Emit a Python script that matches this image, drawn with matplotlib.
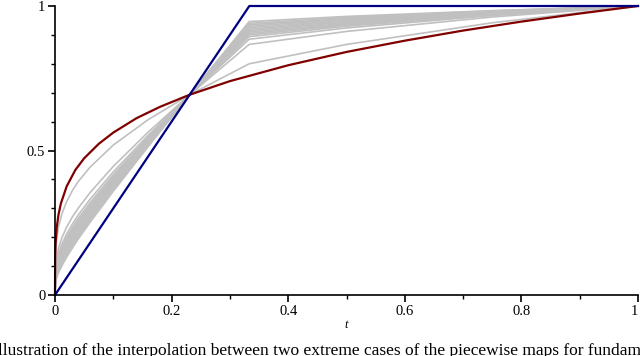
import matplotlib
matplotlib.use("Agg")
import matplotlib.pyplot as plt
from matplotlib.ticker import MultipleLocator

plt.rcParams['font.family'] = ['Liberation Serif', 'DejaVu Serif']

# red curve
t_red = [0, 0.0003, 0.001, 0.003, 0.006, 0.01, 0.02, 0.035, 0.05, 0.075, 0.1,
         0.14, 0.18, 0.231, 0.3, 0.4, 0.5, 0.6, 0.7, 0.8, 0.9, 1.0]
y_red = [0, 0.132, 0.178, 0.234, 0.278, 0.316, 0.376, 0.433, 0.473, 0.523, 0.562,
         0.612, 0.651, 0.693, 0.740, 0.795, 0.841, 0.880, 0.915, 0.946, 0.974, 1.0]

# blue piecewise linear curve
t_blue = [0, 1/3, 1.0]
y_blue = [0, 1.0, 1.0]

# grey curves
t_grey = [0, 0.0007, 0.003, 0.006, 0.012, 0.02, 0.03, 0.04, 0.06, 0.1, 0.16,
          0.231, 0.333, 0.5, 0.75, 1.0]
grey_curves = [
    [0, 0.136, 0.196, 0.235, 0.282, 0.323, 0.362, 0.393, 0.442, 0.519, 0.607, 0.693, 0.800, 0.867, 0.942, 1.0],
    [0, 0.091, 0.134, 0.162, 0.199, 0.235, 0.271, 0.301, 0.354, 0.445, 0.564, 0.693, 0.867, 0.912, 0.962, 1.0],
    [0, 0.079, 0.117, 0.143, 0.177, 0.211, 0.246, 0.277, 0.331, 0.426, 0.553, 0.693, 0.885, 0.924, 0.967, 1.0],
    [0, 0.073, 0.108, 0.133, 0.166, 0.200, 0.234, 0.265, 0.319, 0.416, 0.547, 0.693, 0.894, 0.930, 0.969, 1.0],
    [0, 0.069, 0.103, 0.127, 0.159, 0.192, 0.226, 0.256, 0.311, 0.409, 0.544, 0.693, 0.900, 0.934, 0.971, 1.0],
    [0, 0.066, 0.098, 0.121, 0.153, 0.185, 0.219, 0.250, 0.305, 0.404, 0.540, 0.693, 0.905, 0.937, 0.973, 1.0],
    [0, 0.062, 0.093, 0.116, 0.147, 0.179, 0.212, 0.243, 0.298, 0.398, 0.537, 0.693, 0.910, 0.940, 0.974, 1.0],
    [0, 0.059, 0.089, 0.110, 0.140, 0.172, 0.206, 0.236, 0.291, 0.393, 0.534, 0.693, 0.915, 0.944, 0.975, 1.0],
    [0, 0.056, 0.084, 0.105, 0.134, 0.165, 0.199, 0.229, 0.285, 0.387, 0.531, 0.693, 0.920, 0.947, 0.977, 1.0],
    [0, 0.052, 0.079, 0.099, 0.128, 0.159, 0.192, 0.222, 0.278, 0.382, 0.528, 0.693, 0.925, 0.950, 0.978, 1.0],
    [0, 0.049, 0.075, 0.094, 0.122, 0.152, 0.185, 0.216, 0.272, 0.377, 0.525, 0.693, 0.930, 0.954, 0.980, 1.0],
    [0, 0.046, 0.070, 0.089, 0.116, 0.146, 0.178, 0.209, 0.265, 0.371, 0.521, 0.693, 0.935, 0.957, 0.981, 1.0],
    [0, 0.042, 0.065, 0.083, 0.110, 0.139, 0.172, 0.202, 0.259, 0.366, 0.518, 0.693, 0.940, 0.960, 0.983, 1.0],
    [0, 0.038, 0.060, 0.077, 0.102, 0.131, 0.163, 0.194, 0.251, 0.359, 0.514, 0.693, 0.946, 0.964, 0.984, 1.0],
]

x_ticks = [0, 0.2, 0.4, 0.6, 0.8, 1]
x_labels = ["0", "0.2", "0.4", "0.6", "0.8", "1"]
y_ticks = [0, 0.5, 1]
y_labels = ["0", "0.5", "1"]

fig = plt.figure(figsize=(6.4, 3.56), dpi=100)
ax = fig.add_axes([55/640, 1 - 295/356, 583/640, 289/356])

for g in grey_curves:
    ax.plot(t_grey, g, color='#c0c0c0', lw=1.2, clip_on=False)
ax.plot(t_red, y_red, color='#800000', lw=1.6, clip_on=False)
ax.plot(t_blue, y_blue, color='#000080', lw=1.6, clip_on=False)

ax.set_xlim(0, 1)
ax.set_ylim(0, 1)
ax.spines['top'].set_visible(False)
ax.spines['right'].set_visible(False)
for s in ['left', 'bottom']:
    ax.spines[s].set_linewidth(1.2)

ax.set_xticks(x_ticks)
ax.set_xticklabels(x_labels)
ax.set_yticks(y_ticks)
ax.set_yticklabels(y_labels)
ax.xaxis.set_minor_locator(MultipleLocator(0.1))
ax.yaxis.set_minor_locator(MultipleLocator(0.1))
ax.tick_params(which='major', direction='out', length=5, width=1.2, labelsize=10.5, pad=2)
ax.tick_params(which='minor', direction='out', length=3, width=1.0)
# last x label sits inside the figure edge, like the original
ax.get_xticklabels()[-1].set_horizontalalignment('right')
ax.set_xlabel("t", style='italic', fontsize=9, labelpad=1)

fig.text(-0.012, 1 - 343/356,
         "Illustration of the interpolation between two extreme cases of the piecewise maps for fundamental f",
         fontsize=12.5, va='top', ha='left')

fig.savefig("out.png", dpi=100)
